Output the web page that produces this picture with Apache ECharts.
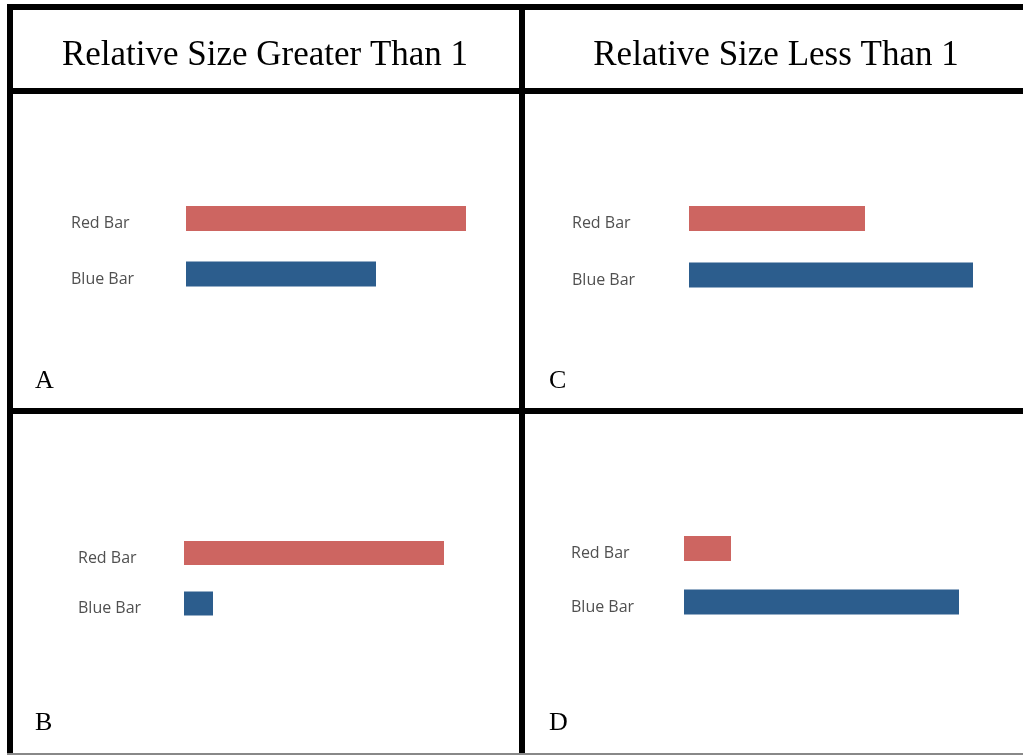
<!DOCTYPE html>
<html><head><meta charset="utf-8">
<script src="https://cdn.jsdelivr.net/npm/echarts@6/dist/echarts.min.js"></script>
<style>html,body{margin:0;padding:0;background:#fff}#c{width:1023px;height:755px}</style>
</head><body><div id="c"></div>
<script>
const categories = ['Red Bar', 'Blue Bar'];
const headers = ['Relative Size Greater Than 1', 'Relative Size Less Than 1'];
const panelLetters = ['A', 'C', 'B', 'D'];
const panelA = [280, 190];
const panelC = [176, 284];
const panelB = [260, 29];
const panelD = [47, 275];
const axisMax = 300;

const RED = '#CD6561', BLUE = '#2C5D8D';
const panels = [
  {data: panelA, left: 186, top: 190.75, height: 111, bw: 25, lx: 71},
  {data: panelC, left: 689, top: 190.25, height: 113, bw: 25, lx: 572},
  {data: panelB, left: 184, top: 527.75, height: 101, bw: 24, lx: 78},
  {data: panelD, left: 684, top: 521.75, height: 107, bw: 25, lx: 571}
];
const grid = [], xAxis = [], yAxis = [], series = [];
panels.forEach((p, i) => {
  grid.push({left: p.left, top: p.top, width: 300, height: p.height, containLabel: false});
  xAxis.push({gridIndex: i, type: 'value', min: 0, max: axisMax, show: false});
  yAxis.push({gridIndex: i, type: 'category', data: categories, inverse: true,
    axisLine: {show: false}, axisTick: {show: false}, splitLine: {show: false},
    axisLabel: {align: 'left', margin: p.left - p.lx, color: '#505050', fontSize: 16,
      fontFamily: 'Open Sans', verticalAlign: 'top', lineHeight: 10}});
  series.push({type: 'bar', xAxisIndex: i, yAxisIndex: i, barWidth: p.bw, animation: false,
    data: p.data.map((v, k) => ({value: v, itemStyle: {color: k === 0 ? RED : BLUE}}))});
});
const B = '#000';
const hFont = '35px "Liberation Serif"', lFont = '26px "Liberation Serif"';
const graphic = [
  {type: 'rect', shape: {x: 7, y: 4, width: 1016, height: 6}, style: {fill: B}},
  {type: 'rect', shape: {x: 7, y: 4, width: 6, height: 751}, style: {fill: B}},
  {type: 'rect', shape: {x: 7, y: 88, width: 1016, height: 6}, style: {fill: B}},
  {type: 'rect', shape: {x: 519, y: 4, width: 6, height: 751}, style: {fill: B}},
  {type: 'rect', shape: {x: 7, y: 408, width: 1016, height: 6}, style: {fill: B}},
  {type: 'rect', shape: {x: 7, y: 753, width: 1016, height: 2}, style: {fill: '#888'}},
  {type: 'text', x: 265, y: 56, style: {text: headers[0], font: hFont, fill: '#000', textAlign: 'center', textVerticalAlign: 'middle'}},
  {type: 'text', x: 776, y: 56, style: {text: headers[1], font: hFont, fill: '#000', textAlign: 'center', textVerticalAlign: 'middle'}},
  {type: 'text', x: 35, y: 381, style: {text: panelLetters[0], font: lFont, fill: '#000', textVerticalAlign: 'middle'}},
  {type: 'text', x: 549, y: 381, style: {text: panelLetters[1], font: lFont, fill: '#000', textVerticalAlign: 'middle'}},
  {type: 'text', x: 35, y: 723, style: {text: panelLetters[2], font: lFont, fill: '#000', textVerticalAlign: 'middle'}},
  {type: 'text', x: 549, y: 723, style: {text: panelLetters[3], font: lFont, fill: '#000', textVerticalAlign: 'middle'}}
];
const chart = echarts.init(document.getElementById('c'));
chart.setOption({animation: false, backgroundColor: '#fff', grid, xAxis, yAxis, series, graphic});
</script></body></html>
